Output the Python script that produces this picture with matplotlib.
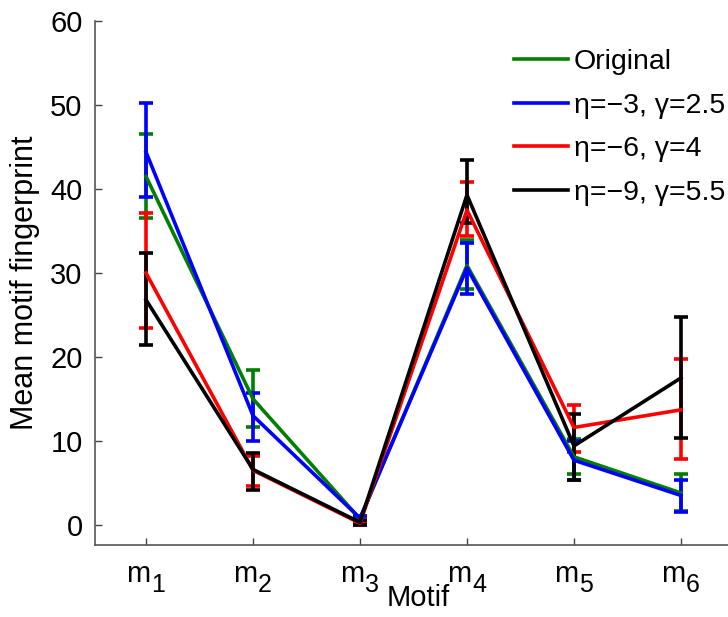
import matplotlib

matplotlib.use("Agg")
import matplotlib.pyplot as plt
import matplotlib.transforms as mtransforms
import numpy as np

plt.rcParams.update({
    "font.family": ["Liberation Sans", "DejaVu Sans"],
    "font.size": 21,
})

# --- data -------------------------------------------------------------------
motif_base = ["m", "m", "m", "m", "m", "m"]
motif_sub = ["1", "2", "3", "4", "5", "6"]
labels = ["Original", "η=−3, γ=2.5", "η=−6, γ=4", "η=−9, γ=5.5"]
colors = ["#008000", "#0000ff", "#ff0000", "#000000"]

orig_mean = [41.5, 15.0, 0.7, 30.9, 8.1, 3.8]
orig_lo = [36.5, 11.7, 0.4, 28.1, 6.0, 1.7]
orig_hi = [46.6, 18.5, 1.0, 33.9, 10.2, 6.0]

eta3_mean = [44.4, 13.0, 0.8, 30.6, 7.7, 3.5]
eta3_lo = [39.1, 10.0, 0.5, 27.5, 5.4, 1.5]
eta3_hi = [50.2, 15.7, 1.1, 33.6, 10.0, 5.4]

eta6_mean = [30.0, 6.5, 0.2, 37.5, 11.6, 13.7]
eta6_lo = [23.5, 4.6, 0.0, 34.4, 8.7, 7.8]
eta6_hi = [37.1, 8.2, 0.4, 40.9, 14.3, 19.8]

eta9_mean = [26.8, 6.6, 0.3, 39.3, 9.4, 17.5]
eta9_lo = [21.4, 4.2, 0.0, 35.9, 5.4, 10.4]
eta9_hi = [32.4, 8.6, 0.6, 43.5, 13.2, 24.7]

series = [
    (orig_mean, orig_lo, orig_hi),
    (eta3_mean, eta3_lo, eta3_hi),
    (eta6_mean, eta6_lo, eta6_hi),
    (eta9_mean, eta9_lo, eta9_hi),
]

x = np.arange(1, len(motif_base) + 1)

fig = plt.figure(figsize=(7.28, 6.17), dpi=100)
ax = fig.add_axes([0.1305, 0.1167, 0.8695, 0.849])

for (mean, lo, hi), color, label in zip(series, colors, labels):
    mean = np.array(mean)
    yerr = [mean - np.array(lo), np.array(hi) - mean]
    ax.errorbar(x, mean, yerr=yerr, color=color, lw=2.6, elinewidth=2.6,
                capsize=5, capthick=2.6, label=label)

ax.set_xlim(0.523, 6.44)
ax.set_ylim(-2.4, 60)
ax.set_yticks(np.arange(0, 61, 10))
ax.set_xticks(x)
ax.set_xticklabels([])
ax.tick_params(direction="in", length=5, width=1, color="#444444", pad=9)

# MATLAB-style tick labels: "m" with a dropped subscript digit
trans = mtransforms.blended_transform_factory(ax.transData, ax.transAxes)
for xi, base, sub in zip(x, motif_base, motif_sub):
    ax.text(xi, -0.0706, base, ha="right", va="baseline", fontsize=21,
            transform=mtransforms.offset_copy(trans, fig, x=4.5, units="dots"))
    ax.text(xi, -0.0897, sub, ha="left", va="baseline", fontsize=18,
            transform=mtransforms.offset_copy(trans, fig, x=5, units="dots"))

for s in ("top", "right"):
    ax.spines[s].set_visible(False)
for s in ("left", "bottom"):
    ax.spines[s].set_color("#555555")
    ax.spines[s].set_linewidth(1.2)

ax.text(0.51, -0.116, "Motif", ha="center", va="baseline", fontsize=21,
        transform=ax.transAxes)
ax.set_ylabel("Mean motif fingerprint", fontsize=22)
ax.yaxis.set_label_coords(-0.087, 0.5)

handles, lbls = ax.get_legend_handles_labels()
handles = [h[0] for h in handles]
ax.legend(handles, lbls, loc="upper left", bbox_to_anchor=(0.621, 0.996),
          frameon=False, fontsize=20.5, handlelength=1.9, handletextpad=0.2,
          labelspacing=0.62)

fig.savefig("out.png")
